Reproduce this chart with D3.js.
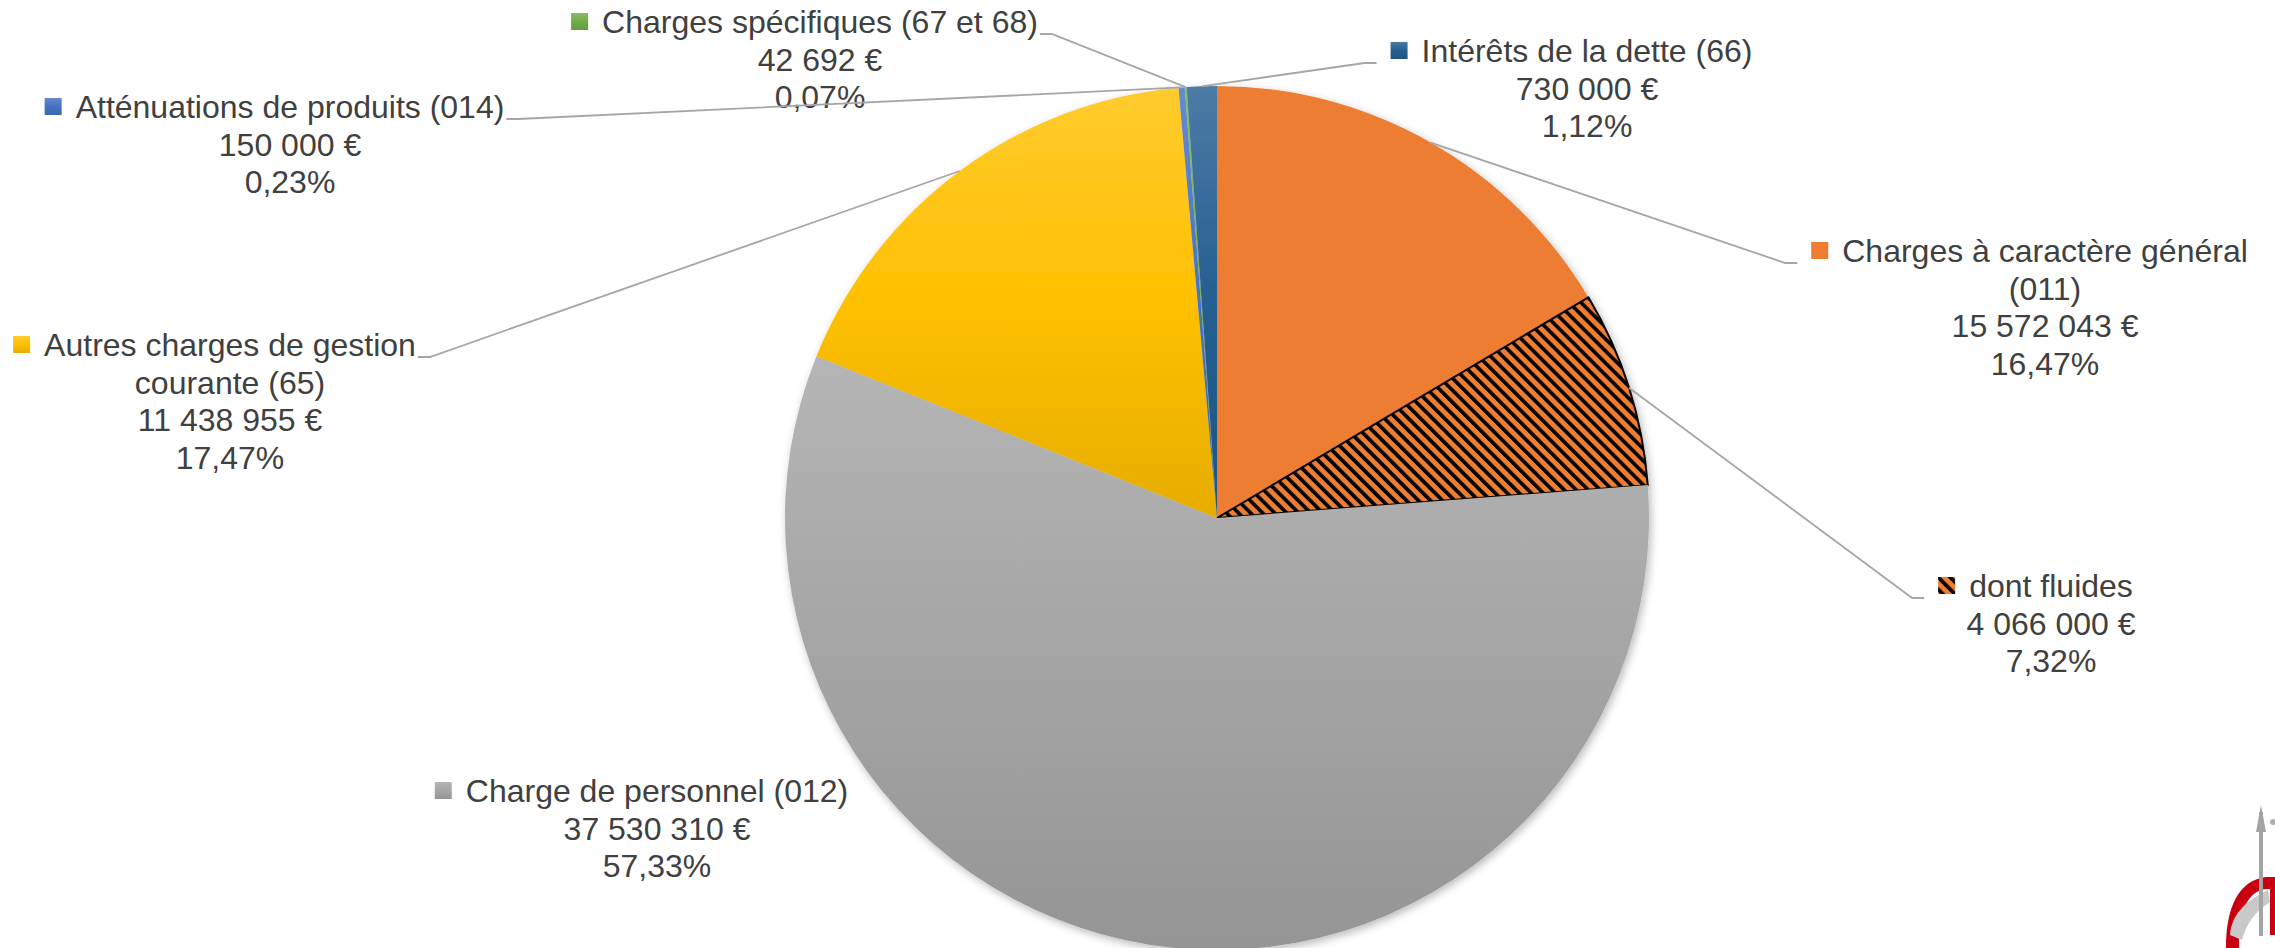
<!DOCTYPE html>
<html>
<head>
<meta charset="utf-8">
<script src="https://cdn.jsdelivr.net/npm/d3@7"></script>
<style>
  html, body { margin: 0; padding: 0; background: #fff; }
  svg { display: block; }
  text { font-family: "Liberation Sans", Arial, sans-serif; }
</style>
</head>
<body>
<div id="chart"></div>
<script>
// data (slices clockwise from 12 o'clock)
var categories = [
  "Charges à caractère général\n(011)",
  "dont fluides",
  "Charge de personnel (012)",
  "Autres charges de gestion\ncourante (65)",
  "Atténuations de produits (014)",
  "Charges spécifiques (67 et 68)",
  "Intérêts de la dette (66)"
]
var amounts = [15572043, 4066000, 37530310, 11438955, 150000, 42692, 730000]
var shares = [16.47, 7.32, 57.33, 17.47, 0.23, 0.07, 1.12]
var fills = ["solid", "hatch", "grad", "grad", "grad", "grad", "grad"]
var baseColors = ["#ed7d31", "#ed7d31", "#a5a5a5", "#ffc000", "#4472c4", "#70ad47", "#255e91"]

// where each label sits (text centre x, first baseline y)
var labelLayout = [
  {x: 2045, y: 262, leader: true},
  {x: 2051, y: 597, leader: true},
  {x: 657, y: 802, leader: false},
  {x: 230, y: 356, leader: true},
  {x: 290, y: 118, leader: true},
  {x: 820, y: 33, leader: true},
  {x: 1587, y: 62, leader: true}
]

var width = 2275, height = 948
var cx = 1217, cy = 518, radius = 432
var lineH = 37.5

var fr = d3.formatLocale({decimal: ",", thousands: " ", grouping: [3], currency: ["", " €"]})
var fmtAmount = fr.format("$,d")
var fmtShare = function(v) { return fr.format(",.2f")(v) + "%" }

var rows = categories.map(function(c, i) {
  return {name: c, amount: amounts[i], share: shares[i], fill: fills[i], color: baseColors[i], pos: labelLayout[i]}
})

var svg = d3.select("#chart").append("svg")
  .attr("width", width)
  .attr("height", height)

var defs = svg.append("defs")

// gradients like excel (light top, darker bottom)
rows.forEach(function(d, i) {
  if (d.fill !== "grad") return
  var c = d3.color(d.color)
  var g = defs.append("linearGradient")
    .attr("id", "grad" + i)
    .attr("x1", 0).attr("y1", 0).attr("x2", 0).attr("y2", 1)
  g.append("stop").attr("offset", "0%").attr("stop-color", d3.interpolateRgb(c, "#fff")(0.18))
  g.append("stop").attr("offset", "50%").attr("stop-color", c.formatHex())
  g.append("stop").attr("offset", "100%").attr("stop-color", d3.interpolateRgb(c, "#000")(0.1))
})

var pat = defs.append("pattern")
  .attr("id", "hatch")
  .attr("patternUnits", "userSpaceOnUse")
  .attr("width", 8.5)
  .attr("height", 8.5)
  .attr("patternTransform", "rotate(-45)")
pat.append("rect").attr("width", 8.5).attr("height", 8.5).attr("fill", "#ed7d31")
pat.append("rect").attr("x", 0).attr("width", 3.6).attr("height", 8.5).attr("fill", "#000")

var shadow = defs.append("filter")
  .attr("id", "shadow")
  .attr("x", "-10%").attr("y", "-10%").attr("width", "120%").attr("height", "120%")
shadow.append("feDropShadow")
  .attr("dx", 2).attr("dy", 3)
  .attr("stdDeviation", 4)
  .attr("flood-color", "#000")
  .attr("flood-opacity", 0.28)

function paint(d, i) {
  if (d.fill === "hatch") return "url(#hatch)"
  if (d.fill === "grad") return "url(#grad" + i + ")"
  return d.color
}

var pie = d3.pie()
  .sort(null)
  .value(function(d) { return d.share })

var arc = d3.arc()
  .innerRadius(0)
  .outerRadius(radius)

var arcs = pie(rows)

var pieG = svg.append("g")
  .attr("transform", "translate(" + cx + "," + cy + ")")
  .attr("filter", "url(#shadow)")

pieG.selectAll("path")
  .data(arcs)
  .enter().append("path")
  .attr("d", arc)
  .attr("fill", function(d, i) { return paint(d.data, i) })
  .attr("stroke", function(d) { return d.data.fill === "hatch" ? "#000" : "none" })
  .attr("stroke-width", 2)
  .attr("stroke-linejoin", "round")

// labels
var labelG = svg.append("g")

arcs.forEach(function(a, i) {
  var d = a.data
  var lines = d.name.split("\n").concat([fmtAmount(d.amount), fmtShare(d.share)])

  var t = labelG.append("text")
    .attr("text-anchor", "middle")
    .attr("font-size", 32)
    .attr("fill", "#404040")

  var first = null
  lines.forEach(function(s, k) {
    var ts = t.append("tspan")
      .attr("x", d.pos.x)
      .attr("y", d.pos.y + k * lineH)
      .text(s)
    if (k === 0) first = ts
  })

  var w = first.node().getComputedTextLength()
  var keyX = d.pos.x - w / 2 - 14 - 17
  labelG.append("rect")
    .attr("x", keyX)
    .attr("y", d.pos.y - 20)
    .attr("width", 17)
    .attr("height", 17)
    .attr("fill", paint(d, i))

  if (!d.pos.leader) return

  // point on the rim at the middle of the slice
  var mid = (a.startAngle + a.endAngle) / 2
  var px = cx + radius * Math.sin(mid)
  var py = cy - radius * Math.cos(mid)

  var ex, ey = d.pos.y + 1, elbow
  if (d.pos.x > cx) {
    ex = keyX - 14
    elbow = ex - 12
  } else {
    ex = d.pos.x + w / 2 + 2
    elbow = ex + 12
  }

  svg.append("path")
    .attr("d", "M" + px + "," + py + "L" + elbow + "," + ey + "L" + ex + "," + ey)
    .attr("fill", "none")
    .attr("stroke", "#a6a6a6")
    .attr("stroke-width", 1.8)
})

// bits of the logo peeking in bottom right corner
var logo = svg.append("g")
logo.append("path")
  .attr("d", "M2226,948 C2226,905 2240,880 2266,877 L2275,877 L2275,889 L2266,889 C2248,891 2239,910 2239,948 Z")
  .attr("fill", "#c8000f")
logo.append("rect")
  .attr("x", 2270).attr("y", 885).attr("width", 5).attr("height", 50)
  .attr("fill", "#c8000f")
logo.append("path")
  .attr("d", "M2230,935 C2232,912 2248,900 2268,890 L2270,902 C2254,912 2246,925 2242,940 Z")
  .attr("fill", "#c9c9c9")
logo.append("line")
  .attr("x1", 2261).attr("y1", 812).attr("x2", 2261).attr("y2", 936)
  .attr("stroke", "#a3a3a3").attr("stroke-width", 4)
logo.append("path")
  .attr("d", "M2256,832 L2261,805 L2266,832 Z")
  .attr("fill", "#a3a3a3")
logo.append("circle")
  .attr("cx", 2273).attr("cy", 822).attr("r", 3)
  .attr("fill", "#b0b0b0")
</script>
</body>
</html>
